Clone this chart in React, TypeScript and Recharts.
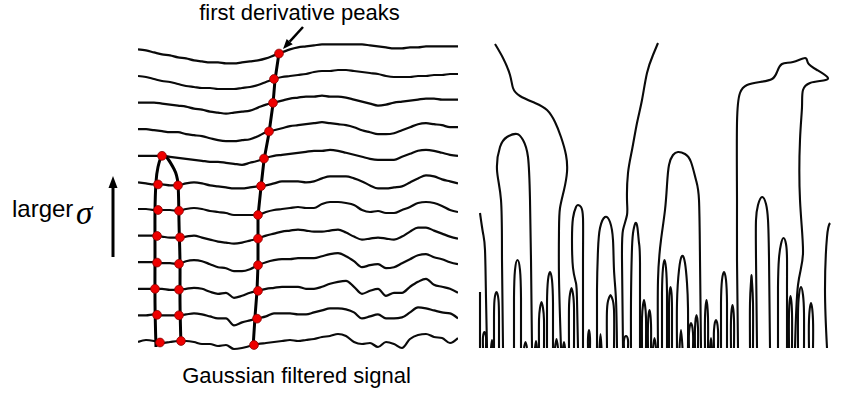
import React from 'react';
import { ComposedChart, Line, Scatter, XAxis, YAxis } from 'recharts';

// left panel: sample positions along the signal and one offset list per scale level (level 0 = finest)
const LEVEL_GAP = 26.6;
const sampleX = [0, 8, 16, 24, 32, 40, 48, 56, 64, 72, 80, 88, 96, 104, 112, 120, 128, 136, 144, 152, 160, 168, 176, 184, 192, 200, 208, 216, 224, 232, 240, 248, 256, 264, 272, 280, 288, 296, 304, 312, 320];

const level0 = [0, 2, 1, -1, 0, 1, 1, 0, -2, -2, -4, -3, -7, -6, -4, -2, -1, 0, 1, 2, 1, 2, 3, 5, 6, 8, 6, 0, -2, -1, -5, 0, -2, -6, 3, 7, 8, 5, 4, -1, 4];
const level1 = [0, 0, 1, 0, 0, 0, 1, 2, 1, -1, -3, -3, -10, -7, -5, -3, -1, 2, 2, 2, 1, 1, 3, 5, 7, 7, 6, 3, -3, -1, 1, -3, -3, -2, 3, 8, 7, 5, 3, 2, -3];
const level2 = [0, 0, 0, 0, -1, -1, 0, 1, 0, -3, -5, -4, -9, -7, -4, -2, 0, 1, 2, 2, 2, 0, 0, 2, 5, 7, 8, 2, -5, -2, 0, -7, -4, -4, 2, 7, 10, 4, 2, 0, -4];
const level3 = [0, 0, 0, -1, -1, -2, 1, 2, 1, -2, -5, -6, -9, -9, -7, -3, 0, 2, 3, 3, 4, 4, 4, 6, 8, 9, 6, 1, -5, -3, -2, -6, -5, -1, 3, 7, 8, 5, 3, 0, -2];
const level4 = [0, 0, 0, -1, -2, -2, -1, 0, -2, -4, -6, -7, -8, -7, -5, -3, 0, 2, 4, 5, 6, 5, 4, 4, 5, 6, 3, -1, -4, -3, -2, -3, -4, -1, 4, 8, 8, 5, 2, -1, -3];
const level5 = [0, 0, -1, -1, -1, -2, 0, 1, 0, -2, -3, -4, -6, -6, -6, -6, -3, -1, 0, 1, 2, 1, 1, 5, 7, 7, 6, 4, -1, -3, -2, -4, -4, -1, 2, 6, 7, 6, 3, -1, -3];
const level6 = [0, -1, -2, -2, -3, -3, -1, 0, -1, -3, -4, -5, -6, -6, -5, -4, -3, -1, 1, 1, 1, 0, 1, 4, 6, 6, 6, 4, 1, -3, -6, -6, -5, -4, 0, 4, 7, 6, 3, 1, -1];
const level7 = [0, 0, 0, 0, -1, -2, -3, -4, -5, -6, -6, -7, -8, -9, -7, -5, -2, 0, 1, 2, 3, 4, 5, 5, 6, 5, 3, 1, -1, -3, -4, -4, -4, -1, 2, 5, 6, 5, 3, 1, 0];
const level8 = [0, 0, -1, -2, -3, -3, -5, -6, -7, -9, -11, -12, -12, -11, -10, -7, -3, -1, 1, 3, 4, 5, 6, 7, 6, 5, 4, 2, -1, -3, -5, -5, -4, -1, 2, 5, 6, 5, 4, 2, 2];
const level9 = [0, 0, 0, -1, -2, -3, -4, -6, -7, -9, -10, -11, -10, -9, -8, -5, -2, 0, 2, 4, 5, 6, 6, 7, 6, 6, 5, 3, 1, -1, -3, -2, 0, 1, 2, 3, 4, 4, 3, 3, 3];
const level10 = [0, -1, -3, -5, -6, -8, -10, -11, -12, -12, -13, -13, -13, -12, -11, -9, -6, -3, -1, 0, 1, 2, 4, 5, 5, 6, 6, 5, 4, 3, 2, 0, -1, -1, -1, 0, 0, 1, 1, 2, 2];
const level11 = [0, -1, -3, -5, -6, -8, -9, -11, -12, -13, -13, -14, -14, -13, -12, -11, -9, -6, -3, 0, 2, 3, 4, 5, 5, 5, 5, 5, 5, 4, 3, 2, 1, 1, 2, 2, 3, 3, 3, 3, 3];

const signalLevels = [level0, level1, level2, level3, level4, level5, level6, level7, level8, level9, level10, level11];

// positions of the first derivative peaks, per level (from level 0 upward)
const rightPeakX = [116, 119, 120, 120, 120, 120, 123, 126, 131, 135, 136, 141];
const leftPeakXA = [22, 19, 17, 19, 19, 20, 20, 24];
const leftPeakXB = [43, 41, 41, 41, 42, 41, 40];

// tracks linking the peaks across scales
const rightTrack = [[115, -6], [117, 25], [119, 51], [120, 77], [120, 103], [120, 126], [123, 155], [126, 182], [131, 209], [135, 238], [137, 262], [141, 289]];
const leftLoop = [[18, -5], [17, 40], [17, 90], [17, 130], [18, 160], [20, 175], [24, 186], [30, 183], [36, 173], [40, 158], [41, 120], [42, 80], [42, 40], [43, -3]];

// right panel: scale-space fingerprint (x = position, y = scale)
const openContours = [
  [[2, 135], [5, 115], [7, 98], [8, 50], [9, 0]],
  [[2, 56], [2, 0]],
  [[17, 304], [25, 290], [32, 273], [35, 260], [42, 252], [57, 245], [69, 238], [77, 226], [83, 211], [88, 193], [89, 176], [86, 158], [82, 140], [81, 118], [81, 70], [83, 0]],
  [[180, 305], [175, 293], [169, 275], [164, 248], [159, 225], [154, 198], [150, 175], [149, 148], [149, 133], [145, 118], [144, 88], [145, 0]],
  [[352, 125], [349, 111], [347, 58], [349, 0]],
];

const tallArches = [
  [[25, 0], [24, 88], [23, 148], [19, 178], [22, 201], [29, 211], [39, 214], [45, 208], [50, 191], [52, 148], [53, 88], [54, 0]],
  [[180, 0], [180, 68], [183, 108], [187, 138], [189, 163], [191, 183], [195, 193], [200, 196], [207, 194], [213, 186], [218, 168], [221, 148], [222, 88], [223, 0]],
  [[260, 0], [259, 88], [259, 148], [259, 225], [262, 255], [269, 263], [282, 266], [294, 269], [299, 276], [304, 284], [315, 286], [327, 290], [330, 285], [339, 278], [350, 270], [342, 267], [332, 265], [325, 258], [324, 241], [322, 208], [322, 148], [325, 95], [320, 63], [317, 0]],
  [[279, 0], [278, 90], [278, 128], [280, 143], [284, 151], [288, 144], [290, 128], [291, 90], [292, 0]],
  [[100, 0], [99, 48], [98, 65], [95, 80], [94, 108], [95, 130], [98, 141], [100, 143], [103, 141], [105, 130], [105, 88], [105, 0]],
  [[119, 0], [119, 58], [120, 98], [122, 120], [127, 131], [132, 126], [135, 108], [136, 78], [138, 48], [139, 0]],
  [[153, 0], [153, 48], [154, 100], [155.5, 118], [157.5, 125], [159.5, 120], [161, 105], [162, 85], [162, 0]],
  [[300, 0], [300, 60], [301, 90], [303, 104], [305.5, 110], [308, 104], [309, 90], [309, 60], [309, 0]],
];

const smallArches = [
  [[5, 0], [5, 11], [6.5, 16], [8, 11], [8, 0]],
  [[13, 0], [14, 8], [15, 0]],
  [[16, 0], [16, 30], [16.5, 48], [18.5, 56], [20.5, 48], [21, 30], [21, 0]],
  [[36, 0], [36, 50], [37, 78], [39.5, 88], [42, 78], [43, 50], [43, 0]],
  [[46, 0], [47.5, 6], [49, 0]],
  [[57, 0], [58, 7], [59, 0]],
  [[61, 0], [61, 28], [62, 40], [63.5, 46], [65, 40], [66, 28], [66, 0]],
  [[69, 0], [69, 45], [70, 68], [72, 76], [74, 68], [75, 45], [75, 0]],
  [[77, 0], [78.5, 9], [80, 0]],
  [[85, 0], [86, 6], [87, 0]],
  [[91, 0], [91, 40], [92, 54], [93.5, 60], [95, 54], [96, 40], [96, 0]],
  [[110, 0], [110, 10], [111, 18], [112, 10], [112, 0]],
  [[121.5, 0], [122.5, 14], [123.5, 0]],
  [[129, 0], [129, 38], [131, 50], [132.5, 53], [134, 50], [136, 38], [136, 0]],
  [[146, 0], [146, 8], [148, 12], [150, 8], [150, 0]],
  [[164, 0], [164, 30], [165, 43], [166, 48], [167, 43], [168, 30], [168, 0]],
  [[170, 0], [170, 24], [171.5, 38], [173, 24], [173, 0]],
  [[175, 0], [176.5, 10], [178, 0]],
  [[184, 0], [184, 55], [185, 80], [186.5, 88], [188, 80], [189, 55], [189, 0]],
  [[191, 0], [191, 40], [191.5, 55], [192.5, 61], [193.5, 55], [194, 40], [194, 0]],
  [[199, 0], [199, 45], [201, 78], [204, 92], [207, 85], [209, 65], [210, 40], [210, 0]],
  [[201.5, 0], [203, 18], [204.5, 0]],
  [[211, 0], [211, 15], [213, 25], [215, 15], [215, 0]],
  [[217, 0], [217, 20], [218.5, 33], [220, 20], [220, 0]],
  [[227, 0], [227, 30], [228.5, 48], [230, 30], [230, 0]],
  [[232, 0], [233, 10], [234, 0]],
  [[236, 0], [236, 18], [238, 28], [240, 18], [240, 0]],
  [[243, 0], [243, 45], [244, 68], [246, 76], [248, 68], [249, 45], [249, 0]],
  [[253, 0], [253, 28], [254.5, 43], [256, 28], [256, 0]],
  [[272, 0], [272, 45], [273, 66], [273.5, 73], [274, 66], [275, 45], [275, 0]],
  [[311, 0], [311, 35], [312.5, 52], [314, 35], [314, 0]],
  [[320, 0], [320, 35], [321, 53], [323, 61], [325, 53], [326, 35], [326, 0]],
  [[331, 0], [331, 28], [333, 45], [335, 28], [335, 0]],
];

const signalTable = sampleX.map((x, i) => {
  const row: Record<string, number> = { x };
  signalLevels.forEach((s, k) => {
    row['s' + k] = k * LEVEL_GAP + s[i];
  });
  return row;
});

function signalAt(offsets: number[], x: number) {
  let i = 0;
  while (i < sampleX.length - 2 && sampleX[i + 1] < x) i++;
  const t = (x - sampleX[i]) / (sampleX[i + 1] - sampleX[i]);
  return offsets[i] + t * (offsets[i + 1] - offsets[i]);
}

const peakDots = (xs: number[]) =>
  xs.map((x, level) => ({ x, y: level * LEVEL_GAP + signalAt(signalLevels[level], x) }));

const toPts = (c: number[][]) => c.map(([x, y]) => ({ x, y }));

const redDot = (p: any) => (
  <circle cx={p.cx} cy={p.cy} r={4.4} fill="#ee0000" stroke="#8a0000" strokeWidth={0.8} />
);

const noMargin = { top: 0, right: 0, bottom: 0, left: 0 };
const ink = '#0a0a0a';

function SignalPanel() {
  return (
    <ComposedChart width={320} height={350} data={signalTable} margin={noMargin}>
      <XAxis dataKey="x" type="number" domain={[0, 320]} allowDataOverflow hide />
      <YAxis type="number" domain={[-28, 322]} allowDataOverflow hide />
      {signalLevels.map((_, k) => (
        <Line key={'s' + k} dataKey={'s' + k} type="monotone" stroke={ink} strokeWidth={2.2}
          dot={false} activeDot={false} isAnimationActive={false} />
      ))}
      <Line data={toPts(rightTrack)} dataKey="y" type="linear" stroke="#000" strokeWidth={3}
        dot={false} activeDot={false} isAnimationActive={false} />
      <Line data={toPts(leftLoop)} dataKey="y" type="natural" stroke="#000" strokeWidth={3}
        dot={false} activeDot={false} isAnimationActive={false} />
      <Scatter data={peakDots(rightPeakX)} dataKey="y" shape={redDot} isAnimationActive={false} />
      <Scatter data={peakDots(leftPeakXA)} dataKey="y" shape={redDot} isAnimationActive={false} />
      <Scatter data={peakDots(leftPeakXB)} dataKey="y" shape={redDot} isAnimationActive={false} />
    </ComposedChart>
  );
}

function FingerprintPanel() {
  const contours = [...openContours, ...tallArches, ...smallArches];
  return (
    <ComposedChart width={360} height={330} margin={noMargin}>
      <XAxis dataKey="x" type="number" domain={[0, 360]} allowDataOverflow hide />
      <YAxis type="number" domain={[-12, 318]} allowDataOverflow hide />
      {contours.map((c, i) => (
        <Line key={'c' + i} data={toPts(c)} dataKey="y" type="natural" stroke={ink} strokeWidth={2.1}
          dot={false} activeDot={false} isAnimationActive={false} />
      ))}
    </ComposedChart>
  );
}

export default function App() {
  const sans = '"Liberation Sans", Arial, sans-serif';
  return (
    <div style={{ position: 'absolute', left: 0, top: 0, width: 846, height: 393, background: '#fff', overflow: 'hidden' }}>
      <div style={{ position: 'absolute', left: 138, top: 20 }}>
        <SignalPanel />
      </div>
      <div style={{ position: 'absolute', left: 478, top: 30 }}>
        <FingerprintPanel />
      </div>
      <svg width={846} height={393} style={{ position: 'absolute', left: 0, top: 0, pointerEvents: 'none' }}>
        <text x={299.5} y={20} textAnchor="middle" fontFamily={sans} fontSize={22} fill="#000">first derivative peaks</text>
        <line x1={303} y1={27} x2={289.7} y2={41.6} stroke="#000" strokeWidth={2.5} />
        <polygon points="283,49 292.7,44.3 286.7,38.9" fill="#000" />
        <text x={296.5} y={383} textAnchor="middle" fontFamily={sans} fontSize={22} fill="#000">Gaussian filtered signal</text>
        <text x={12} y={217} fontFamily={sans} fontSize={24} fill="#000">larger</text>
        <text x={76} y={224} fontFamily='"Liberation Serif", "Times New Roman", serif' fontStyle="italic" fontSize={33} fill="#000">σ</text>
        <line x1={113} y1={257} x2={113} y2={186} stroke="#000" strokeWidth={3} />
        <polygon points="113,176 108.5,188 117.5,188" fill="#000" />
      </svg>
    </div>
  );
}
